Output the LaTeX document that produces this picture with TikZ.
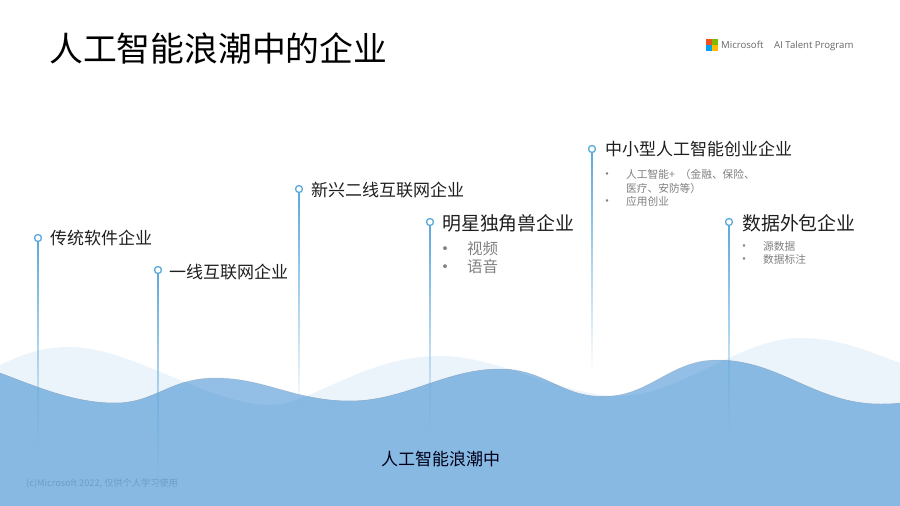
\documentclass[tikz,border=0pt]{standalone}
\usepackage{fontspec}
\setmainfont{Noto Sans CJK SC}
\newfontfamily\latinf{Open Sans}
\usetikzlibrary{fadings}
\definecolor{wavelight}{HTML}{EBF3FB}
\definecolor{wavemid}{HTML}{93BFE6}
\definecolor{wavedeep}{HTML}{88B9E3}
\definecolor{linec}{HTML}{5AA8DC}
\definecolor{inkc}{HTML}{1F1F1F}
\definecolor{grayc}{HTML}{808080}
\definecolor{crc}{HTML}{6E9CC9}
\definecolor{msred}{HTML}{F25022}
\definecolor{msgreen}{HTML}{7FBA00}
\definecolor{msblue}{HTML}{00A4EF}
\definecolor{msyellow}{HTML}{FFB900}
\tikzfading[name=fadelin, top color=transparent!0, middle color=transparent!60, bottom color=transparent!100]
\tikzfading[name=fadestrong, top color=transparent!0, middle color=transparent!25, bottom color=transparent!100]
\newcommand{\backwave}{(0,365) .. controls (25,353) and (45,347) .. (70,347) .. controls (130,347) and (210,405) .. (270,405) .. controls (310,405) and (365,356) .. (440,356) .. controls (500,356) and (560,396) .. (620,396) .. controls (680,396) and (740,338) .. (800,338) .. controls (840,338) and (870,352) .. (900,363)}
\newcommand{\frontwave}{(0,373) .. controls (40,388) and (75,403) .. (115,403) .. controls (155,403) and (170,378) .. (215,378) .. controls (265,378) and (295,401) .. (350,401) .. controls (405,401) and (445,369) .. (500,369) .. controls (545,369) and (560,396.5) .. (603,396.5) .. controls (650,396.5) and (670,360) .. (717,360) .. controls (780,360) and (815,404) .. (880,404) .. controls (887,404) and (893,404) .. (900,403)}
\newcommand{\stemline}[3]{\begin{scope}
\clip ([xshift=-.8pt]#1) rectangle ([xshift=.8pt]#2);
\path[fill=linec,path fading=#3] ([xshift=-20pt]#1) rectangle ([xshift=20pt]#2);
\end{scope}}
\tikzset{
  x=1pt,y=-1pt,
  dot/.style={circle,draw=linec,fill=white,line width=1.3pt,minimum size=7pt,inner sep=0pt},
  head/.style={anchor=base west,inner sep=0pt,text=inkc,font=\fontsize{17}{17}\selectfont},
  headbig/.style={anchor=base west,inner sep=0pt,text=inkc,font=\fontsize{18.9}{19}\selectfont},
  subtext/.style={anchor=base west,inner sep=0pt,text=grayc,font=\fontsize{15.5}{16}\selectfont},
  tiny/.style={anchor=base west,inner sep=0pt,text=grayc,font=\fontsize{10.7}{11}\selectfont},
  bul/.style={anchor=base,inner sep=0pt,text=grayc,font=\fontsize{12}{12}\selectfont},
  bulbig/.style={anchor=base,inner sep=0pt,text=grayc,font=\fontsize{18}{18}\selectfont},
  logotext/.style={anchor=base west,inner sep=0pt,text=black!60,font=\latinf\fontsize{9.6}{10}\selectfont},
}
\begin{document}
\begin{tikzpicture}
\useasboundingbox (0,0) rectangle (900,506);
\fill[white] (0,0) rectangle (900,506);
% waves
\fill[wavelight] \backwave -- (900,506) -- (0,506) -- cycle;
\fill[wavemid] \frontwave -- (900,506) -- (0,506) -- cycle;
\begin{scope}
\clip \frontwave -- (900,506) -- (0,506) -- cycle;
\fill[wavedeep] \backwave -- (900,506) -- (0,506) -- cycle;
\end{scope}
\draw[black!45,opacity=.3,line width=.5pt] \frontwave;
% end points of stems
\coordinate (e1) at (38,450);
\coordinate (e2) at (158,482);
\coordinate (e3) at (299,412);
\coordinate (e4) at (430,436);
\coordinate (e5) at (592,372);
\coordinate (e6) at (729,436);
\coordinate (s1) at (38,238);
\coordinate (s2) at (158,270);
\coordinate (s3) at (299,189);
\coordinate (s4) at (430,222);
\coordinate (s5) at (592,149);
\coordinate (s6) at (729,222);
\stemline{s1}{e1}{fadelin}
\stemline{s2}{e2}{fadestrong}
\stemline{s3}{e3}{fadelin}
\stemline{s4}{e4}{fadelin}
\stemline{s5}{e5}{fadelin}
\stemline{s6}{e6}{fadestrong}
\node[dot] (d1) at (s1) {};
\node[dot] (d2) at (s2) {};
\node[dot] (d3) at (s3) {};
\node[dot] (d4) at (s4) {};
\node[dot] (d5) at (s5) {};
\node[dot] (d6) at (s6) {};
% title
\node[anchor=base west,inner sep=0pt,text=black,font=\fontsize{33.8}{34}\selectfont] (title) at (49,61) {人工智能浪潮中的企业};
% logo
\fill[msred] (706,39) rectangle (711.6,44.6);
\fill[msgreen] (712.4,39) rectangle (718,44.6);
\fill[msblue] (706,45.4) rectangle (711.6,51);
\fill[msyellow] (712.4,45.4) rectangle (718,51);
\node[logotext] (ms) at (721,48) {Microsoft};
\node[logotext] (ait) at (774,48) {AI Talent Program};
% labels
\node[head] (l1) at (50,244) {传统软件企业};
\node[head] (l2) at (169,278) {一线互联网企业};
\node[head] (l3) at (311,196) {新兴二线互联网企业};
\node[headbig] (l4) at (442,230) {明星独角兽企业};
\node[head] (l5) at (605,155) {中小型人工智能创业企业};
\node[headbig] (l6) at (742,230) {数据外包企业};
% bullets 4
\node[bulbig] (b41) at (445,255) {•};
\node[subtext] (t41) at (467,254) {视频};
\node[bulbig] (b42) at (445,273) {•};
\node[subtext] (t42) at (467,272) {语音};
% bullets 5
\node[bul] (b51) at (607,178) {•};
\node[tiny] (t51) at (626,178) {人工智能+\hspace{5pt}（金融、保险、};
\node[tiny] (t52) at (626,192) {医疗、安防等）};
\node[bul] (b52) at (607,205) {•};
\node[tiny] (t53) at (626,205) {应用创业};
% bullets 6
\node[bul] (b61) at (744,250) {•};
\node[tiny] (t61) at (763,250) {源数据};
\node[bul] (b62) at (744,263) {•};
\node[tiny] (t62) at (763,263) {数据标注};
% wave text
\node[head,text=black!90!blue] (wt) at (381,465) {人工智能浪潮中};
\node[anchor=base west,inner sep=0pt,text=crc,font=\fontsize{9.2}{9}\selectfont] (cr) at (26,486) {(c)Microsoft 2022, 仅供个人学习使用};
\end{tikzpicture}
\end{document}
